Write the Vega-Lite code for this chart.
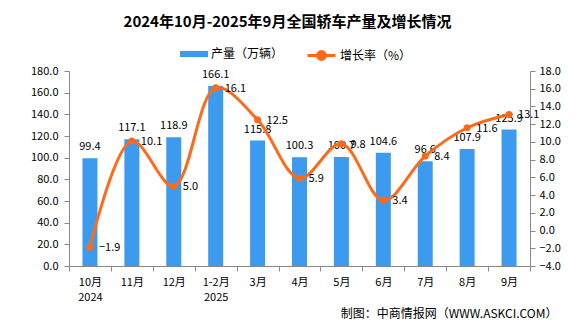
{
  "$schema": "https://vega.github.io/schema/vega-lite/v6.json",
  "width": 461,
  "height": 195,
  "autosize": {"type": "none"},
  "padding": {"left": 69, "top": 71, "right": 45, "bottom": 60},
  "background": "white",
  "config": {
    "font": "Noto Sans CJK SC",
    "view": {"stroke": null},
    "axis": {"labelColor": "#000000", "labelFontSize": 11, "domainColor": "#888888", "tickColor": "#888888", "grid": false, "labelFont": "Noto Sans CJK SC", "labelOverlap": false, "labelFlush": false}
  },
  "title": {
    "text": "2024年10月-2025年9月全国轿车产量及增长情况",
    "fontSize": 15,
    "fontWeight": "bold",
    "color": "#000000",
    "anchor": "middle",
    "dx": -12,
    "offset": 10
  },
  "data": {
    "values": [
      {"month": "10月", "prod": 99.4, "growth": -1.9},
      {"month": "11月", "prod": 117.1, "growth": 10.1},
      {"month": "12月", "prod": 118.9, "growth": 5.0},
      {"month": "1-2月", "prod": 166.1, "growth": 16.1},
      {"month": "3月", "prod": 115.8, "growth": 12.5},
      {"month": "4月", "prod": 100.3, "growth": 5.9},
      {"month": "5月", "prod": 100.7, "growth": 9.8},
      {"month": "6月", "prod": 104.6, "growth": 3.4},
      {"month": "7月", "prod": 96.6, "growth": 8.4},
      {"month": "8月", "prod": 107.9, "growth": 11.6},
      {"month": "9月", "prod": 125.9, "growth": 13.1}
    ]
  },
  "encoding": {
    "x": {
      "field": "month",
      "type": "nominal",
      "sort": null,
      "scale": {"paddingInner": 0, "paddingOuter": 0},
      "axis": {
        "labelAngle": 0,
        "tickBand": "extent",
        "tickSize": 5,
        "labelPadding": 5,
        "labelLineHeight": 15,
        "labelExpr": "datum.value == '10月' ? ['10月', '2024'] : datum.value == '1-2月' ? ['1-2月', '2025'] : datum.value",
        "title": "制图：中商情报网（WWW.ASKCI.COM）",
        "titleFontSize": 12,
        "titleFontWeight": "normal",
        "titleColor": "#000000",
        "titleAlign": "right",
        "titleAnchor": "end",
        "titleBaseline": "middle",
        "titleX": 488,
        "titleY": 47
      }
    }
  },
  "layer": [
    {
      "encoding": {
        "y": {
          "field": "prod",
          "type": "quantitative",
          "scale": {"domain": [0, 180], "nice": false},
          "axis": {
            "orient": "left",
            "title": null,
            "values": [0, 20, 40, 60, 80, 100, 120, 140, 160, 180],
            "tickCount": 10,
            "format": ".1f",
            "tickSize": 5,
            "labelPadding": 6,
            "labelOverlap": false
          }
        }
      },
      "layer": [
        {
          "mark": {"type": "bar", "size": 15},
          "encoding": {
            "fill": {
              "datum": "产量（万辆）",
              "type": "nominal",
              "scale": {"range": ["#3D9BEF"]},
              "legend": {
                "title": null,
                "orient": "none",
                "legendX": 111,
                "legendY": -31,
                "padding": 0,
                "symbolType": "M-1,-0.22H1V0.22H-1Z",
                "symbolSize": 784,
                "symbolStrokeWidth": 0,
                "labelFontSize": 12,
                "labelColor": "#000000",
                "labelOffset": 3
              }
            }
          }
        },
        {
          "mark": {"type": "text", "dy": -11, "fontSize": 11, "color": "#000000"},
          "encoding": {
            "text": {"field": "prod", "type": "quantitative", "format": ".1f"}
          }
        }
      ]
    },
    {
      "encoding": {
        "y": {
          "field": "growth",
          "type": "quantitative",
          "scale": {"domain": [-4, 18], "nice": false},
          "axis": {
            "orient": "right",
            "title": null,
            "values": [-4, -2, 0, 2, 4, 6, 8, 10, 12, 14, 16, 18],
            "tickCount": 12,
            "format": ".1f",
            "tickSize": 5,
            "labelPadding": 4,
            "labelOverlap": false
          }
        }
      },
      "layer": [
        {
          "mark": {"type": "line", "interpolate": "catmull-rom", "strokeWidth": 3},
          "encoding": {
            "stroke": {
              "datum": "增长率（%）",
              "type": "nominal",
              "scale": {"range": ["#FF6A1A"]},
              "legend": {
                "title": null,
                "orient": "none",
                "legendX": 237,
                "legendY": -31,
                "padding": 0,
                "symbolType": "M-1,0H1M-0.28,0A0.28,0.28,0,1,0,0.28,0A0.28,0.28,0,1,0,-0.28,0Z",
                "symbolSize": 784,
                "symbolStrokeWidth": 3,
                "symbolFillColor": "#FF6A1A",
                "labelFontSize": 12,
                "labelColor": "#000000",
                "labelOffset": 3
              }
            }
          }
        },
        {
          "mark": {"type": "point", "filled": true, "size": 50, "color": "#FF6A1A", "opacity": 1}
        },
        {
          "mark": {"type": "text", "align": "left", "dx": 9, "dy": 1, "fontSize": 11, "color": "#000000"},
          "encoding": {
            "text": {"field": "growth", "type": "quantitative", "format": ".1f"}
          }
        }
      ]
    }
  ],
  "resolve": {"scale": {"y": "independent", "fill": "independent", "stroke": "independent"}}
}
